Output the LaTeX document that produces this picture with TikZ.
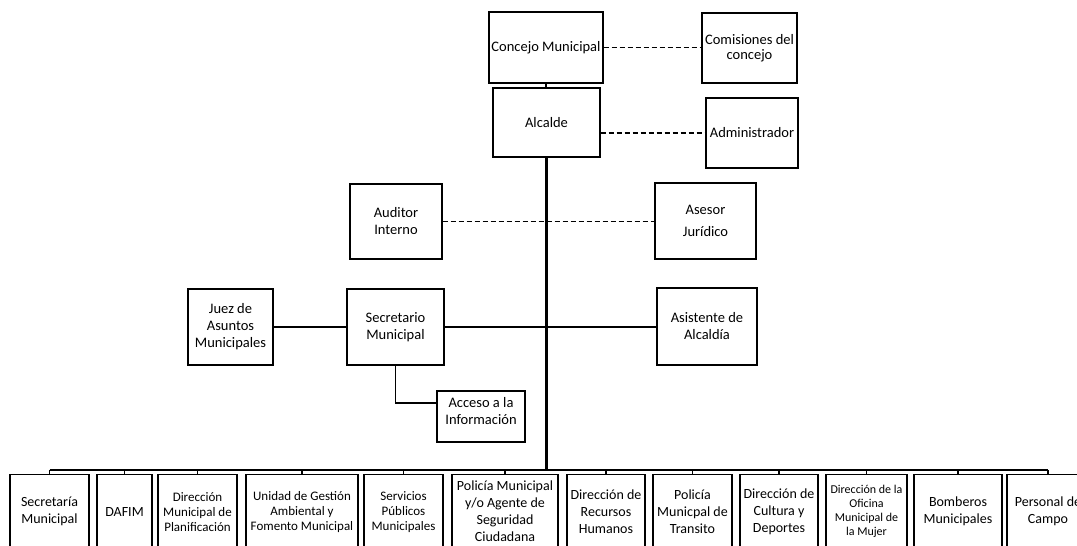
\documentclass[tikz,border=0pt]{standalone}
\usepackage{fontspec}
\setmainfont{Carlito}

\begin{document}
\begin{tikzpicture}[x=1pt,y=-1pt,line width=1.3pt,
  box/.style={draw,align=center,inner sep=0pt,font=\fontsize{14.5}{17}\selectfont},
  dept/.style={box,anchor=north,minimum height=74,font=\fontsize{14}{17}\selectfont},
  small/.style={font=\fontsize{13}{15}\selectfont},
  dashline/.style={dash pattern=on 5pt off 3pt},
  mainline/.style={line width=2.5pt}]

  \useasboundingbox (0,0) rectangle (1077,546);
  \clip (0,0) rectangle (1077,546);

  \node[box,minimum width=114,minimum height=71] (concejo) at (546,47.5) {Concejo Municipal};
  \node[box,minimum width=95,minimum height=70,font=\fontsize{14.5}{15}\selectfont] (comisiones) at (749.5,48) {Comisiones del\\concejo};
  \node[box,minimum width=107,minimum height=69] (alcalde) at (546.5,122.5) {Alcalde};
  \node[box,minimum width=92,minimum height=70] (admin) at (752,133) {Administrador};
  \node[box,minimum width=92,minimum height=75] (auditor) at (396,221.5) {Auditor\\Interno};
  \node[box,minimum width=101,minimum height=76] (asesor) at (705.5,221) {Asesor\\[5pt]Jurídico};
  \node[box,minimum width=85,minimum height=76] (juez) at (230.5,327) {Juez de\\Asuntos\\Municipales};
  \node[box,minimum width=97,minimum height=76] (secretario) at (395.5,327) {Secretario\\Municipal};
  \node[box,minimum width=100,minimum height=77] (asistente) at (707,326.5) {Asistente de\\Alcaldía};
  \node[box,minimum width=88,minimum height=51] (acceso) at (481,416.5) {};
  \node[align=center,inner sep=0pt,font=\fontsize{14.5}{17}\selectfont] (accesotxt) at (481,411.5) {Acceso a la\\Información};

  \node[dept,minimum width=79] (secretaria) at (49.5,474) {Secretaría\\Municipal};
  \node[dept,minimum width=55] (dafim) at (124.5,474) {DAFIM};
  \node[dept,small,minimum width=79] (planif) at (197.5,474) {Dirección\\Municipal de\\Planificación};
  \node[dept,small,minimum width=112] (unidad) at (302,474) {Unidad de Gestión\\Ambiental y\\Fomento Municipal};
  \node[dept,small,minimum width=79] (servicios) at (403.5,474) {Servicios\\Públicos\\Municipales};
  \node[dept,minimum width=106] (policia) at (505,474) {Policía Municipal\\y/o Agente de\\Seguridad\\Ciudadana};
  \node[dept,minimum width=78] (recursos) at (606,474) {Dirección de\\Recursos\\Humanos};
  \node[dept,minimum width=79] (transito) at (692.5,474) {Policía\\Municpal de\\Transito};
  \node[dept,minimum width=78] (cultura) at (779,474) {Dirección de\\Cultura y\\Deportes};
  \node[dept,font=\fontsize{12}{14}\selectfont,minimum width=81] (mujer) at (866.5,474) {Dirección de la\\Oficina\\Municipal de\\la Mujer};
  \node[dept,minimum width=88] (bomberos) at (958,474) {Bomberos\\Municipales};
  \node[dept,minimum width=82] (personal) at (1048,474) {Personal de\\Campo};

  \coordinate (busL) at (49.5,470);
  \coordinate (busR) at (1048,470);
  \coordinate (accin) at (437,403);

  \draw (concejo.south) -- (concejo.south |- alcalde.north);
  \draw[mainline] (alcalde.south) -- (alcalde.south |- busL);
  \draw (busL) -- (busR);
  \draw[dashline] (concejo.east) -- (concejo.east -| comisiones.west);
  \draw[dashline] (alcalde.east |- admin.west) -- (admin.west);
  \draw[dashline] (auditor.east) -- (auditor.east -| asesor.west);
  \draw (juez.east) -- (secretario.west);
  \draw (secretario.east) -- (secretario.east -| asistente.west);
  \draw (secretario.south) |- (accin);

  \path[draw]
    (secretaria.north) edge (secretaria.north |- busL)
    (dafim.north) edge (dafim.north |- busL)
    (planif.north) edge (planif.north |- busL)
    (unidad.north) edge (unidad.north |- busL)
    (servicios.north) edge (servicios.north |- busL)
    (policia.north) edge (policia.north |- busL)
    (recursos.north) edge (recursos.north |- busL)
    (transito.north) edge (transito.north |- busL)
    (cultura.north) edge (cultura.north |- busL)
    (mujer.north) edge (mujer.north |- busL)
    (bomberos.north) edge (bomberos.north |- busL)
    (personal.north) edge (personal.north |- busL)
    ;
\end{tikzpicture}
\end{document}
